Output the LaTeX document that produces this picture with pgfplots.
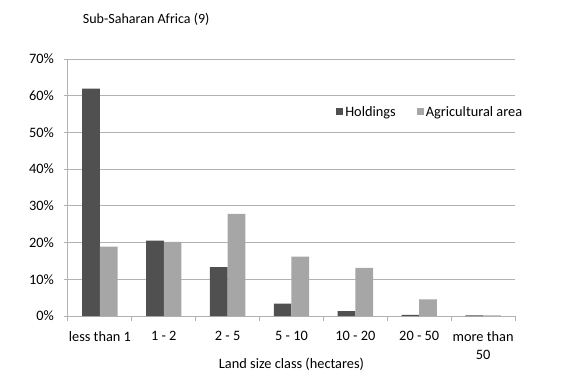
\documentclass[border=0pt]{standalone}
\usepackage{fontspec}
\setmainfont{Carlito}
\usepackage{pgfplots}
\pgfplotsset{compat=1.18}
\definecolor{hold}{RGB}{80,80,80}
\definecolor{agri}{RGB}{166,166,166}
\definecolor{gridc}{RGB}{178,178,178}
\pgfplotsset{sqleg/.style={legend image code/.code={\fill[##1,draw=none] (0bp,-3.5bp) rectangle (7bp,3.5bp);}}}
\begin{document}
\begin{tikzpicture}
\path[use as bounding box] (-68bp,-69bp) rectangle (496bp,316bp);
\begin{axis}[
 at={(0,0)}, anchor=south west,
 scale only axis, width=447bp, height=257bp,
 xmin=-0.5, xmax=6.5, ymin=0, ymax=70, enlargelimits=false,
 ybar=0pt, bar width=17.7bp,
 axis lines*=left,
 axis line style={gridc, line width=1bp},
 xtick={0,...,6},
 xticklabels={less than 1, 1 - 2, 2 - 5, 5 - 10, 10 - 20, 20 - 50, {more than\\50}},
 major x tick style={draw=none},
 minor xtick={-0.5,0.5,...,6.5},
 minor x tick style={gridc, line width=1bp},
 minor tick length=5bp,
 tick align=outside,
 ytick={0,10,...,70},
 yticklabels={0\%,10\%,20\%,30\%,40\%,50\%,60\%,70\%},
 ymajorgrids, major grid style={gridc, line width=1bp},
 major y tick style={gridc, line width=1bp},
 major tick length=4bp,
 tick label style={font=\fontsize{14.4}{18.5}\selectfont, text=black},
 xticklabel style={align=center, inner sep=0pt, anchor=north, yshift=-11bp},
 yticklabel style={inner sep=0pt, anchor=east, xshift=-10bp},
 xlabel={Land size class (hectares)},
 xlabel style={at={(axis description cs:0.5,0)}, anchor=center, yshift=-48.5bp, font=\fontsize{14.4}{18}\selectfont, text=black},
 title={Sub-Saharan Africa (9)},
 title style={at={(axis description cs:0.175,1.132)}, anchor=center, font=\fontsize{14.1}{16}\selectfont, text=black},
 legend style={at={(0.593,0.794)}, anchor=west, draw=none, fill=none, legend columns=2, font=\fontsize{14.4}{18}\selectfont, text=black, /tikz/every even column/.append style={column sep=19bp}},
]
\addplot[fill=hold, draw=none, sqleg] coordinates {(0,61.9) (1,20.5) (2,13.3) (3,3.4) (4,1.3) (5,0.3) (6,0.2)};
\addplot[fill=agri, draw=none, sqleg] coordinates {(0,18.9) (1,20.2) (2,27.8) (3,16.2) (4,13.1) (5,4.5) (6,0.2)};
\legend{Holdings, Agricultural area}
\end{axis}
\end{tikzpicture}
\end{document}
